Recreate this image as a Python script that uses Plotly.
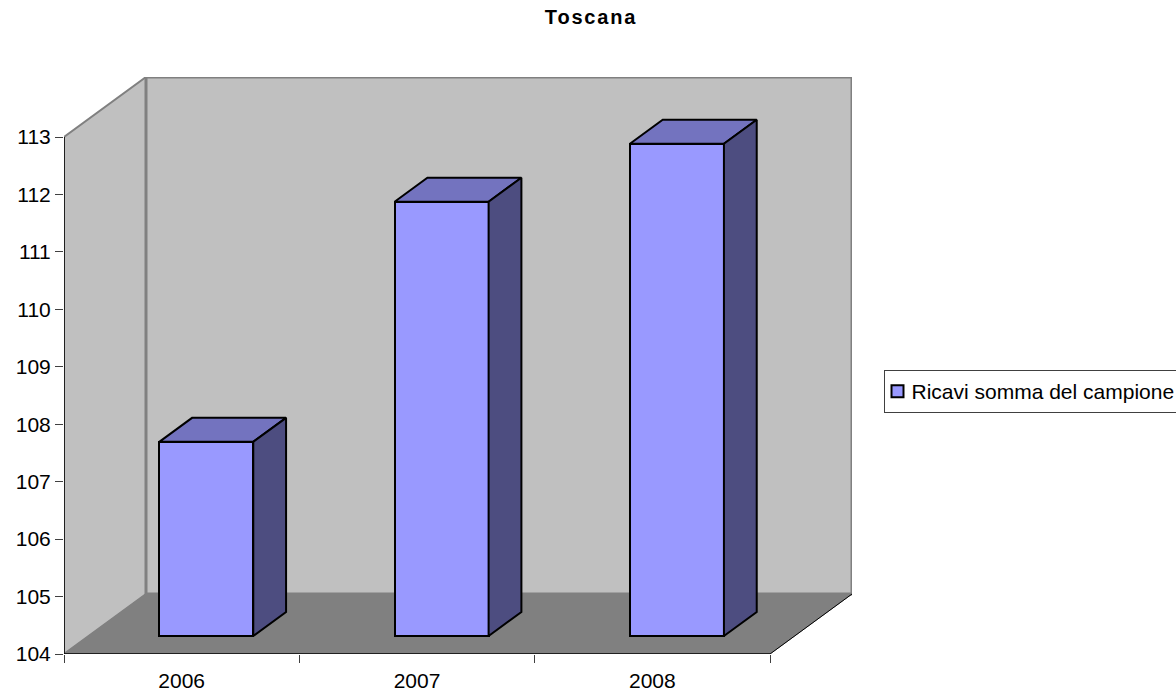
import plotly.graph_objects as go

# Chart contents
TITLE = "Toscana"
SERIES_NAME = "Ricavi somma del campione"
YEARS = ["2006", "2007", "2008"]
RICAVI = [107.38, 111.56, 112.57]
Y_TICKS = [104, 105, 106, 107, 108, 109, 110, 111, 112, 113]

# Oblique projection of the pseudo-3D box, in axis units
WIDTH, HEIGHT = 1176, 694
LEFT_PX, RIGHT_PX = 64, 770
BOTTOM_PX, TOP_PX = 654, 137
PX_PER_CAT = (RIGHT_PX - LEFT_PX) / len(YEARS)
PX_PER_VAL = (BOTTOM_PX - TOP_PX) / (Y_TICKS[-1] - Y_TICKS[0])
DEPTH_DX = 82 / PX_PER_CAT
DEPTH_DY = 60 / PX_PER_VAL
BAR_WIDTH = 94 / PX_PER_CAT
BAR_NEAR = 0.30   # where the bar starts along the depth of the floor
BAR_FAR = 0.70    # where the bar ends along the depth of the floor

Y0, Y1 = Y_TICKS[0], Y_TICKS[-1]
N = len(YEARS)

WALL = "#C0C0C0"
FLOOR = "#808080"
EDGE = "#808080"
BAR_FRONT = "#9999FF"
BAR_TOP = "#7373BF"
BAR_SIDE = "#4D4D80"


def project(x, y, depth):
    """Shift a point (x, y) back by a fraction of the box depth."""
    return x + depth * DEPTH_DX, y + depth * DEPTH_DY


def face_path(points):
    coords = [project(*p) for p in points]
    return "M" + "L".join(f"{x},{y}" for x, y in coords) + "Z"


def box_shape(points, fill, line_color, line_width):
    return dict(type="path", path=face_path(points), xref="x", yref="y", layer="below",
                fillcolor=fill, line=dict(color=line_color, width=line_width))


def edge_shape(p, q, color, width):
    (x0, y0), (x1, y1) = project(*p), project(*q)
    return dict(type="line", x0=x0, y0=y0, x1=x1, y1=y1, xref="x", yref="y", layer="below",
                line=dict(color=color, width=width))


def polygon(xs, ys, fill):
    return go.Scatter(
        x=xs + xs[:1], y=ys + ys[:1], mode="lines", fill="toself", fillcolor=fill,
        line=dict(color="#000000", width=2), showlegend=False, hoverinfo="skip",
    )


fig = go.Figure()

# Back wall, side wall and floor sit beneath the bars
box = [
    box_shape([(0, Y0, 0), (0, Y0, 1), (0, Y1, 1), (0, Y1, 0)], WALL, EDGE, 2),
    box_shape([(0, Y0, 1), (N, Y0, 1), (N, Y1, 1), (0, Y1, 1)], WALL, EDGE, 3),
    box_shape([(0, Y0, 0), (N, Y0, 0), (N, Y0, 1), (0, Y0, 1)], FLOOR, FLOOR, 1),
    edge_shape((N, Y0, 0), (N, Y0, 1), "#000000", 1),
    edge_shape((0, Y0, 0), (N, Y0, 0), "#000000", 1.5),
    edge_shape((0, Y0, 0), (0, Y1, 0), "#000000", 1.5),
]

# Front faces are the real bar series; top and side faces follow from the same values
centers = [i + 0.5 for i in range(N)]
fig.add_trace(go.Bar(
    x=[project(c, Y0, BAR_NEAR)[0] for c in centers],
    y=[v - Y0 for v in RICAVI],
    base=[project(c, Y0, BAR_NEAR)[1] for c in centers],
    width=BAR_WIDTH,
    name=SERIES_NAME,
    marker=dict(color=BAR_FRONT, line=dict(color="#000000", width=2)),
    hoverinfo="skip",
))

for c, v in zip(centers, RICAVI):
    l, r = c - BAR_WIDTH / 2, c + BAR_WIDTH / 2
    top = [project(l, v, BAR_NEAR), project(r, v, BAR_NEAR),
           project(r, v, BAR_FAR), project(l, v, BAR_FAR)]
    fig.add_trace(polygon([p[0] for p in top], [p[1] for p in top], BAR_TOP))
    side = [project(r, Y0, BAR_NEAR), project(r, Y0, BAR_FAR),
            project(r, v, BAR_FAR), project(r, v, BAR_NEAR)]
    fig.add_trace(polygon([p[0] for p in side], [p[1] for p in side], BAR_SIDE))

x_max = N + DEPTH_DX
y_max = Y1 + DEPTH_DY
fig.update_layout(
    width=WIDTH, height=HEIGHT, autosize=False,
    margin=dict(l=0, r=0, t=0, b=0, autoexpand=False),
    paper_bgcolor="#FFFFFF", plot_bgcolor="#FFFFFF",
    font=dict(family="Liberation Sans, Arial, sans-serif", size=21, color="#000000"),
    title=dict(text=f"<b>{TITLE}</b>", x=591 / WIDTH, xanchor="center",
               y=1 - 17 / HEIGHT, yanchor="middle",
               font=dict(size=20, color="#000000")),
    shapes=box,
    xaxis=dict(
        domain=[LEFT_PX / WIDTH, (LEFT_PX + x_max * PX_PER_CAT) / WIDTH],
        range=[0, x_max], showgrid=False, zeroline=False, showline=False,
        tickmode="array", tickvals=centers, ticktext=YEARS, ticks="", ticklen=0,
        ticklabelstandoff=12, tickfont=dict(size=21),
        minor=dict(tickmode="array", tickvals=list(range(N + 1)), ticks="outside",
                   ticklen=8, tickcolor="#404040", tickwidth=1, showgrid=False),
        anchor="y", fixedrange=True,
    ),
    yaxis=dict(
        domain=[(HEIGHT - BOTTOM_PX) / HEIGHT,
                (HEIGHT - BOTTOM_PX + (y_max - Y0) * PX_PER_VAL) / HEIGHT],
        range=[Y0, y_max], showgrid=False, zeroline=False, showline=False,
        tickmode="array", tickvals=Y_TICKS, ticks="outside", ticklen=8,
        tickcolor="#404040", tickwidth=1, tickfont=dict(size=21),
        anchor="x", fixedrange=True,
    ),
    legend=dict(
        x=883.5 / WIDTH, y=1 - 370 / HEIGHT, xanchor="left", yanchor="top",
        bgcolor="#FFFFFF", bordercolor="#404040", borderwidth=1,
        indentation=-7, font=dict(size=21),
    ),
    showlegend=True,
    bargap=0,
)

# Open up the title's letter spacing and pull the legend label towards its swatch
fig.write_html(
    "out.html",
    config=dict(displayModeBar=False),
    post_script=(
        "document.querySelector('.gtitle').style.letterSpacing='1.8px';"
        "var t=document.querySelector('.legendtext');"
        "t.setAttribute('x',parseFloat(t.getAttribute('x'))-6);"
    ),
)
